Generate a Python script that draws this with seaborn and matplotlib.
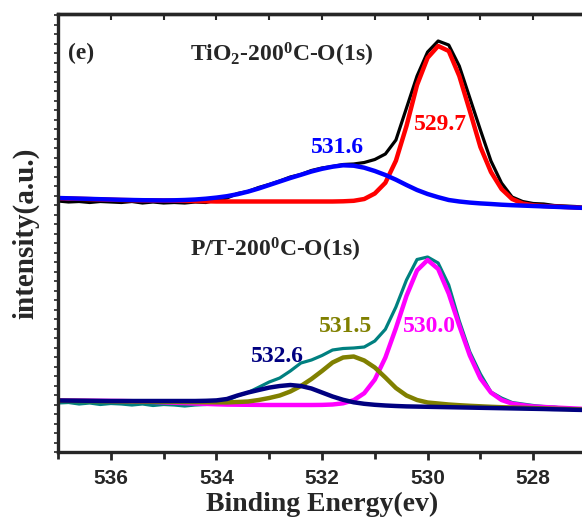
import matplotlib
matplotlib.use('Agg')
import matplotlib.pyplot as plt
from matplotlib.ticker import MultipleLocator, NullFormatter
import seaborn as sns

# 结合能 (eV)，537 -> 527，每 0.2 eV 一个点
energy = [537.0, 536.8, 536.6, 536.4, 536.2, 536.0, 535.8, 535.6, 535.4, 535.2,
          535.0, 534.8, 534.6, 534.4, 534.2, 534.0, 533.8, 533.6, 533.4, 533.2,
          533.0, 532.8, 532.6, 532.4, 532.2, 532.0, 531.8, 531.6, 531.4, 531.2,
          531.0, 530.8, 530.6, 530.4, 530.2, 530.0, 529.8, 529.6, 529.4, 529.2,
          529.0, 528.8, 528.6, 528.4, 528.2, 528.0, 527.8, 527.6, 527.4, 527.2,
          527.0]

# TiO2-200C O(1s): 原始谱 + 两个拟合峰 (已加偏移)
tio2_raw = [251, 250, 250.5, 249.5, 250.5, 250, 249.5, 250.5, 249, 250,
            249, 249.5, 249, 250, 249.5, 252, 254, 258.5, 260.5, 264.5,
            267.5, 271, 275, 277.5, 281.5, 284, 285.5, 287.5, 288, 289.5,
            292.5, 298, 312, 344, 376, 400, 411, 407, 386, 354,
            322, 291, 269, 255, 250.5, 248.5, 248, 246.5, 246, 245.5,
            244.5]
tio2_5316 = [254, 253.7, 253.4, 253.1, 252.8, 252.5, 252.2, 252, 251.8, 251.7,
             251.6, 251.7, 252, 252.5, 253.3, 254.4, 255.8, 257.8, 260.4, 263.5,
             267, 270.5, 274, 277.2, 280.5, 283.2, 285.3, 286.7, 286.3, 284.3,
             281, 277, 272.3, 267, 262, 258, 254.8, 252, 250.5, 249.4,
             248.6, 248, 247.3, 246.8, 246.4, 246, 245.6, 245.2, 244.8, 244.4,
             244]
tio2_5297 = [253.8, 253.5, 253.2, 252.9, 252.6, 252.3, 252, 251.8, 251.6, 251.5,
             251.4, 251.3, 251.1, 250.9, 250.7, 250.5, 250.5, 250.5, 250.5, 250.5,
             250.5, 250.5, 250.5, 250.5, 250.5, 250.5, 250.5, 250.7, 251.2, 253,
             258.5, 269.2, 291.3, 326, 367, 394.2, 406, 401, 376, 341,
             305, 280, 263, 253, 248.5, 246.7, 246, 245.5, 245, 244.5,
             244]

# P/T-200C O(1s): 原始谱 + 三个拟合峰
pt_raw = [49, 49.5, 48, 49, 47.5, 48.5, 48, 47, 48, 46.5,
          47.5, 47, 46, 47, 47.5, 49.5, 51.5, 56.3, 59.5, 64.7,
          70, 74, 81, 89, 92, 96.5, 102, 103.5, 104, 105,
          111, 122.7, 145, 172, 192.5, 195, 189, 167, 131, 100,
          78, 60, 54, 49.5, 48, 46.5, 45.5, 45, 43.5, 43,
          42]
pt_5326 = [51.5, 51.4, 51.3, 51.2, 51.1, 51, 51, 51, 51, 51,
           51, 51, 51, 51, 51.2, 51.6, 53, 56.5, 59.5, 62,
           64.4, 66, 67, 66, 63.5, 59.5, 55.5, 52.2, 49.7, 48.2,
           47.2, 46.5, 46, 45.6, 45.4, 45.2, 45, 44.8, 44.6, 44.4,
           44.2, 44, 43.8, 43.6, 43.4, 43.2, 43, 42.7, 42.5, 42.2,
           42]
pt_5315 = [51.2, 51.1, 51, 50.9, 50.8, 50.7, 50.6, 50.5, 50.4, 50.3,
           50.2, 50.1, 50, 49.9, 49.8, 49.7, 49.6, 50, 50.5, 52,
           54, 56.5, 60.5, 66, 73, 81, 89.5, 94.5, 95.5, 91.5,
           84.5, 74.5, 64, 56.5, 52, 49.5, 48.5, 47.5, 46.8, 46.2,
           45.7, 45.2, 44.8, 44.5, 44.2, 43.9, 43.6, 43.3, 43, 42.7,
           42.4]
pt_5300 = [51.6, 51.5, 51.4, 51.3, 51.2, 51.1, 51, 50.8, 50.5, 50.1,
           49.7, 49.3, 48.9, 48.5, 48.1, 47.7, 47.4, 47.3, 47.2, 47.1,
           47, 47, 47, 47, 47, 47.1, 47.5, 48.7, 51.8, 58.8,
           72.4, 94.4, 123.9, 156.1, 181.6, 192, 183, 158.4, 126.3, 96.4,
           73.6, 59.4, 52, 48.4, 46.8, 45.5, 45, 44.5, 44, 43.5,
           43]

peak_labels = ['531.6', '529.7', '532.6', '531.5', '530.0']

BLUE = '#0000FF'
RED = '#FF0000'
NAVY = '#000080'
OLIVE = '#808000'
MAGENTA = '#FF00FF'
TEAL = '#008080'

sns.set_style('ticks')
plt.rcParams['font.family'] = ['Liberation Serif', 'DejaVu Serif']
plt.rcParams['font.weight'] = 'bold'
plt.rcParams['mathtext.fontset'] = 'custom'
plt.rcParams['mathtext.rm'] = 'Liberation Serif:bold'
plt.rcParams['mathtext.bf'] = 'Liberation Serif:bold'
plt.rcParams['mathtext.it'] = 'Liberation Serif:bold'
plt.rcParams['mathtext.default'] = 'rm'

fig = plt.figure(figsize=(5.82, 5.18), dpi=100)
ax = fig.add_axes([58 / 582, 66 / 518, 528 / 582, 438 / 518])

# 上: TiO2
sns.lineplot(x=energy, y=tio2_raw, color='black', lw=2.3, ax=ax)
sns.lineplot(x=energy, y=tio2_5297, color=RED, lw=3.2, ax=ax)
sns.lineplot(x=energy, y=tio2_5316, color=BLUE, lw=3.2, ax=ax)
# 下: P/T
sns.lineplot(x=energy, y=pt_raw, color=TEAL, lw=2.3, ax=ax)
sns.lineplot(x=energy, y=pt_5300, color=MAGENTA, lw=3.2, ax=ax)
sns.lineplot(x=energy, y=pt_5315, color=OLIVE, lw=3.2, ax=ax)
sns.lineplot(x=energy, y=pt_5326, color=NAVY, lw=3.2, ax=ax)

ax.set_xlim(537, 527)
ax.set_ylim(0, 438)

fs = 17
ax.text(536.81, 399, '(e)', fontsize=fs, fontweight='bold', ha='left', va='center')
ax.text(534.5, 397, r'TiO$_2$-200$^0$C-O(1s)', fontsize=fs, ha='left', va='center')
ax.text(534.5, 202, r'P/T-200$^0$C-O(1s)', fontsize=fs, ha='left', va='center')
ax.text(531.70, 305, peak_labels[0], color=BLUE, fontsize=fs, ha='center', va='center')
ax.text(529.75, 328, peak_labels[1], color=RED, fontsize=fs, ha='center', va='center')
ax.text(532.85, 95, peak_labels[2], color=NAVY, fontsize=fs, ha='center', va='center')
ax.text(531.55, 125, peak_labels[3], color=OLIVE, fontsize=fs, ha='center', va='center')
ax.text(529.97, 125, peak_labels[4], color=MAGENTA, fontsize=fs, ha='center', va='center')

# 坐标轴
ax.xaxis.set_major_locator(MultipleLocator(2))
ax.xaxis.set_minor_locator(MultipleLocator(1))
ax.tick_params(axis='x', which='major', direction='out', length=6, width=2,
               labelsize=15, labelfontfamily='Liberation Sans', pad=6)
ax.tick_params(axis='x', which='minor', direction='out', length=5, width=2)
for lab in ax.get_xticklabels():
    lab.set_fontweight('bold')

ax.yaxis.set_major_locator(MultipleLocator(9.5))
ax.yaxis.set_major_formatter(NullFormatter())
ax.tick_params(axis='y', which='major', direction='out', length=3, width=1.2)

top = ax.secondary_xaxis('top')
top.xaxis.set_major_locator(MultipleLocator(2))
top.xaxis.set_minor_locator(MultipleLocator(1))
top.tick_params(which='both', direction='in', length=4, width=1.5, labeltop=False)
top.spines['top'].set_linewidth(2.4)

for s in ax.spines.values():
    s.set_linewidth(2.4)
    s.set_visible(True)

ax.set_xlabel('Binding Energy(ev)', fontsize=20, fontweight='bold', labelpad=3)
ax.set_ylabel('intensity(a.u.)', fontsize=21, fontweight='bold', labelpad=7)

fig.savefig('out.png', dpi=100)
